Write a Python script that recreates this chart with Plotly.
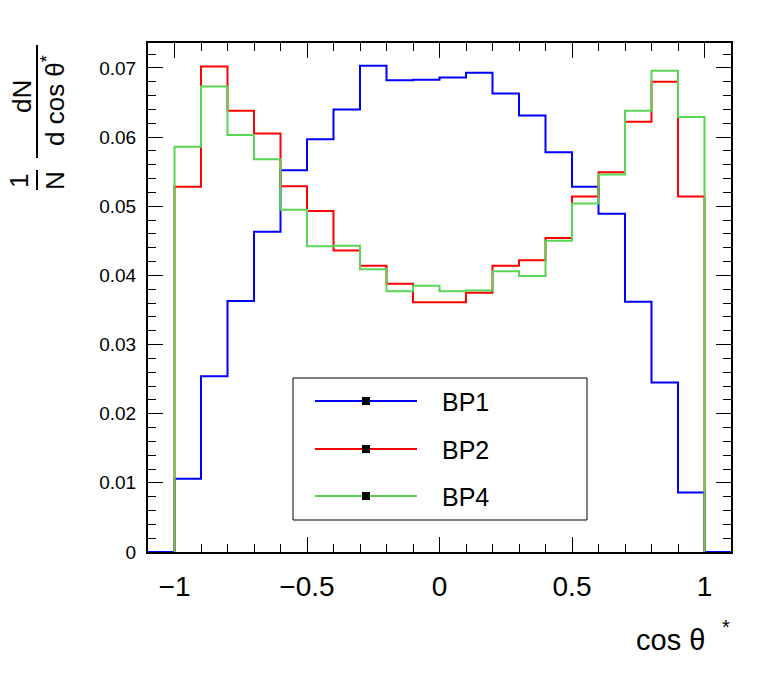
import plotly.graph_objects as go

# ---- data ----
bin_edges = [-1.0, -0.9, -0.8, -0.7, -0.6, -0.5, -0.4, -0.3, -0.2, -0.1,
             0.0, 0.1, 0.2, 0.3, 0.4, 0.5, 0.6, 0.7, 0.8, 0.9, 1.0]
bp1 = [0.0106, 0.0254, 0.0363, 0.0463, 0.0552, 0.0597, 0.0640, 0.0703, 0.0682, 0.0683,
       0.0686, 0.0693, 0.0663, 0.0631, 0.0578, 0.0528, 0.0489, 0.0362, 0.0245, 0.0086]
bp2 = [0.0528, 0.0702, 0.0638, 0.0605, 0.0529, 0.0493, 0.0436, 0.0414, 0.0388, 0.0361,
       0.0361, 0.0375, 0.0414, 0.0422, 0.0454, 0.0514, 0.0549, 0.0622, 0.0680, 0.0514]
bp4 = [0.0586, 0.0673, 0.0603, 0.0568, 0.0495, 0.0442, 0.0443, 0.0409, 0.0377, 0.0385,
       0.0377, 0.0378, 0.0406, 0.0399, 0.0450, 0.0504, 0.0546, 0.0638, 0.0696, 0.0629]
series_names = ["BP1", "BP2", "BP4"]
series_colors = ["#0000ff", "#ff0000", "#59d454"]
x_ticks = [-1, -0.5, 0, 0.5, 1]
y_ticks = [0, 0.01, 0.02, 0.03, 0.04, 0.05, 0.06, 0.07]
y_tick_labels = ["0", "0.01", "0.02", "0.03", "0.04", "0.05", "0.06", "0.07"]
x_range = [-1.1, 1.1]
y_range = [0, 0.0736]

W, H = 776, 680
L, R, T, B = 148, 731, 43, 552   # plot frame in pixels

def px(x):
    return (x - L) / (R - L)

def py(y):
    return (B - y) / (B - T)

fig = go.Figure()

def step_xy(values, pad_outside=False):
    xs = [bin_edges[0]] + bin_edges[:-1] + [bin_edges[-1]]
    ys = [0] + list(values) + [0]
    if pad_outside:
        xs = [x_range[0]] + xs[1:] + [x_range[1]]
        ys = [0] + ys[1:] + [0]
    return xs, ys

for name, vals, col, pad in [("BP1", bp1, series_colors[0], True),
                             ("BP2", bp2, series_colors[1], False),
                             ("BP4", bp4, series_colors[2], False)]:
    xs, ys = step_xy(vals, pad)
    fig.add_trace(go.Scatter(x=xs, y=ys, mode="lines", name=name,
                             line=dict(color=col, width=2, shape="hv"),
                             showlegend=False, cliponaxis=False))

shapes = []
annotations = []

# legend box
shapes.append(dict(type="rect", xref="paper", yref="paper",
                   x0=px(293), x1=px(587), y0=py(520), y1=py(378),
                   line=dict(color="black", width=1), fillcolor="white", layer="above"))
for i, (nm, col) in enumerate(zip(series_names, series_colors)):
    yy = [401, 449, 496][i]
    shapes.append(dict(type="line", xref="paper", yref="paper",
                       x0=px(315), x1=px(417), y0=py(yy), y1=py(yy),
                       line=dict(color=col, width=2), layer="above"))
    shapes.append(dict(type="rect", xref="paper", yref="paper",
                       x0=px(362), x1=px(370), y0=py(yy + 4), y1=py(yy - 4),
                       line=dict(width=0), fillcolor="black", layer="above"))
    annotations.append(dict(text=nm, xref="paper", yref="paper",
                            x=px(440), y=py(yy + 1), xanchor="left", yanchor="middle",
                            showarrow=False, font=dict(size=25, color="black")))

# y-axis title: 1/N dN/(d cos theta*)
shapes.append(dict(type="line", xref="paper", yref="paper",
                   x0=px(37), x1=px(37), y0=py(45), y1=py(158),
                   line=dict(color="black", width=2)))
shapes.append(dict(type="line", xref="paper", yref="paper",
                   x0=px(37), x1=px(37), y0=py(170), y1=py(190),
                   line=dict(color="black", width=2)))
annotations.append(dict(text="dN", xref="paper", yref="paper", x=px(22), y=py(97),
                        textangle=-90, showarrow=False, xanchor="center", yanchor="middle",
                        font=dict(size=26, color="black")))
annotations.append(dict(text="d cos θ<sup>*</sup>", xref="paper", yref="paper", x=px(53), y=py(101),
                        textangle=-90, showarrow=False, xanchor="center", yanchor="middle",
                        font=dict(size=26, color="black")))
annotations.append(dict(text="1", xref="paper", yref="paper", x=px(19), y=py(181),
                        textangle=-90, showarrow=False, xanchor="center", yanchor="middle",
                        font=dict(size=26, color="black")))
annotations.append(dict(text="N", xref="paper", yref="paper", x=px(55), y=py(181),
                        textangle=-90, showarrow=False, xanchor="center", yanchor="middle",
                        font=dict(size=26, color="black")))
# x-axis title
annotations.append(dict(text="cos θ", xref="paper", yref="paper", x=px(707), y=py(640),
                        showarrow=False, xanchor="right", yanchor="middle",
                        font=dict(size=29, color="black")))
annotations.append(dict(text="*", xref="paper", yref="paper", x=px(726), y=py(627),
                        showarrow=False, xanchor="center", yanchor="middle",
                        font=dict(size=20, color="black")))

axis_common = dict(showline=True, linecolor="black", linewidth=2, mirror="allticks",
                   ticks="inside", ticklen=15, tickwidth=1, tickcolor="black",
                   showgrid=False, zeroline=False, layer="below traces")

fig.update_xaxes(range=x_range, tickvals=x_ticks, tickfont=dict(size=28, color="black"),
                 minor=dict(dtick=0.1, tick0=-1, ticks="inside", ticklen=8, tickcolor="black", tickwidth=1),
                 ticklabelstandoff=8, **axis_common)
fig.update_yaxes(range=y_range, tickvals=y_ticks, ticktext=y_tick_labels,
                 tickfont=dict(size=19, color="black"),
                 minor=dict(dtick=0.002, tick0=0, ticks="inside", ticklen=8, tickcolor="black", tickwidth=1),
                 ticklabelstandoff=6, **axis_common)

fig.update_layout(width=W, height=H, autosize=False,
                  margin=dict(l=L, r=W - R, t=T, b=H - B),
                  plot_bgcolor="white", paper_bgcolor="white",
                  font=dict(family="Liberation Sans, Arial, sans-serif", color="black"),
                  shapes=shapes, annotations=annotations, showlegend=False)

fig.write_html("out.html", config={"displayModeBar": False},
               post_script="document.body.style.margin='0px';")
